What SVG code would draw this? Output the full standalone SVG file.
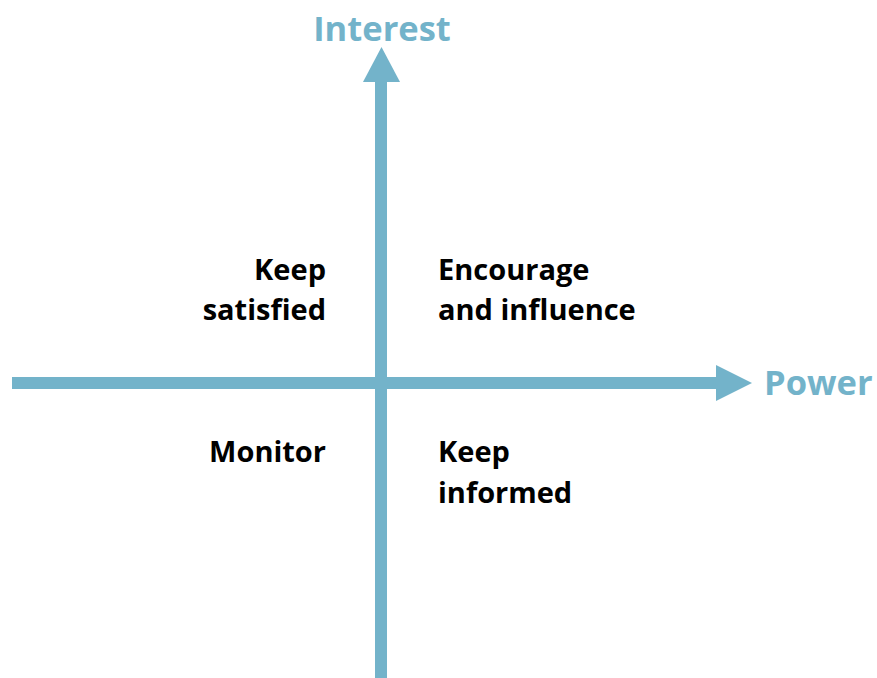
<svg xmlns="http://www.w3.org/2000/svg" width="877" height="678" viewBox="0 0 877 678">
<style>
.axis{fill:#73b3ca}
.axlbl{font-family:"Open Sans","Noto Sans",sans-serif;font-weight:700;font-size:34.5px;fill:#73b3ca}
.lbl{font-family:"Open Sans","Noto Sans",sans-serif;font-weight:700;font-size:29px;fill:#000}
</style>
<rect width="877" height="678" fill="#fff"/>
<g id="connectors">
<g id="axis-interest">
<rect class="axis" x="375" y="80" width="12" height="598"/>
<polygon class="axis" points="363,82 381.5,47 400,82"/>
</g>
<g id="axis-power">
<rect class="axis" x="12" y="377" width="706" height="12"/>
<polygon class="axis" points="716,365 752,383 716,401"/>
</g>
</g>
<g id="label-interest"><text class="axlbl" x="382" y="41" text-anchor="middle">Interest</text></g>
<g id="label-power"><text class="axlbl" x="764" y="395">Power</text></g>
<g id="keep-satisfied"><text class="lbl" text-anchor="end"><tspan x="326" y="280">Keep</tspan><tspan x="326" y="320">satisfied</tspan></text></g>
<g id="encourage"><text class="lbl"><tspan x="438" y="280">Encourage</tspan><tspan x="438" y="320">and influence</tspan></text></g>
<g id="monitor"><text class="lbl" text-anchor="end" x="326" y="462">Monitor</text></g>
<g id="keep-informed"><text class="lbl"><tspan x="438" y="462">Keep</tspan><tspan x="438" y="503">informed</tspan></text></g>
</svg>
